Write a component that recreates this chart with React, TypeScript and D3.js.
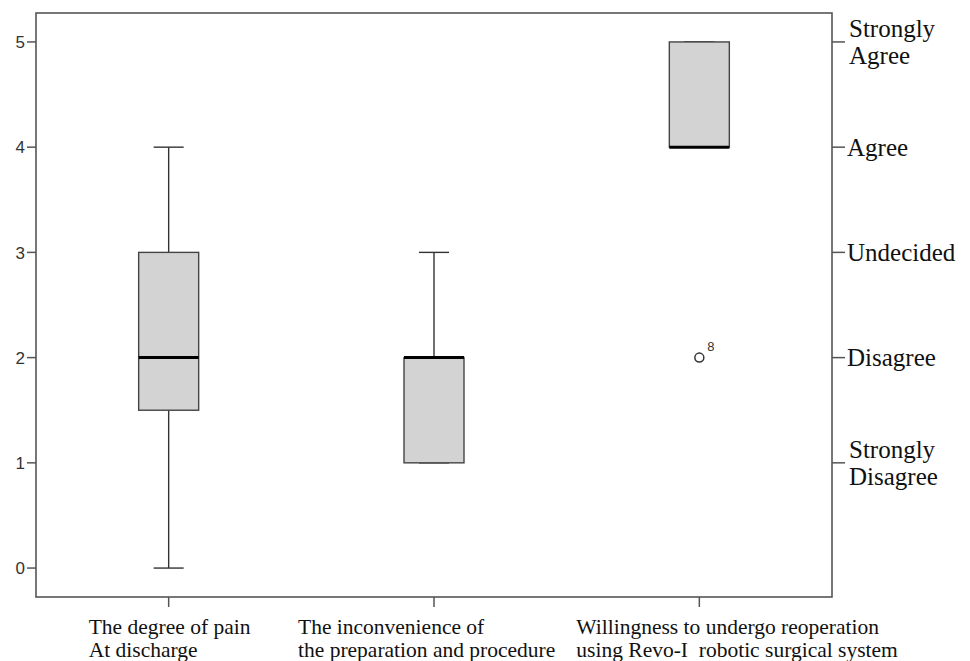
import React from 'react';
import * as d3 from 'd3';

// categories on the x axis (each label split in two lines)
const categories = ['pain', 'inconvenience', 'willingness'];
const categoryLines = [
  ['The degree of pain', 'At discharge'],
  ['The inconvenience of', 'the preparation and procedure'],
  ['Willingness to undergo reoperation', 'using Revo-I  robotic surgical system'],
];

// box plot statistics
const whiskerLow = [0, 1, 4];
const q1 = [1.5, 1, 4];
const median = [2, 2, 4];
const q3 = [3, 2, 5];
const whiskerHigh = [4, 3, 5];

// outliers: category index, value, case label
const outlierCat = [2];
const outlierVal = [2];
const outlierLabel = ['8'];

const leftTicks = [0, 1, 2, 3, 4, 5];
const rightTickValues = [1, 2, 3, 4, 5];
const rightTickLabels = [
  ['Strongly', 'Disagree'],
  ['Disagree'],
  ['Undecided'],
  ['Agree'],
  ['Strongly', 'Agree'],
];

const width = 970;
const height = 661;
const frame = { left: 36, right: 832, top: 13, bottom: 597 };

export default function App() {
  var y = d3.scaleLinear().domain([-0.275, 5.275]).range([frame.bottom, frame.top]);
  var x = d3.scalePoint().domain(categories).range([frame.left, frame.right]).padding(0.5);

  var boxW = 60;
  var capW = 30;
  var axisColor = '#555';
  var sans = '"Liberation Sans", Arial, sans-serif';
  var serif = '"Liberation Serif", "Times New Roman", serif';

  return (
    <div style={{ position: 'absolute', left: 0, top: 0 }}>
      <svg width={width} height={height} style={{ display: 'block', background: '#fff' }}>
        {/* plot frame */}
        <rect x={frame.left} y={frame.top} width={frame.right - frame.left} height={frame.bottom - frame.top}
          fill="none" stroke={axisColor} strokeWidth={1.6} />

        {/* left axis */}
        {leftTicks.map(t => (
          <g key={'l' + t} transform={'translate(' + frame.left + ',' + y(t) + ')'}>
            <line x1={-9} x2={0} stroke={axisColor} strokeWidth={1.5} />
            <text x={-11} dy="0.36em" textAnchor="end" fontFamily={sans} fontSize={17} fill="#333">{t}</text>
          </g>
        ))}

        {/* right axis */}
        {rightTickValues.map((t, i) => {
          var lines = rightTickLabels[i];
          var lh = 27;
          var y0 = -((lines.length - 1) * lh) / 2;
          return (
            <g key={'r' + t} transform={'translate(' + frame.right + ',' + y(t) + ')'}>
              <line x1={0} x2={13} stroke={axisColor} strokeWidth={1.5} />
              {lines.map((s, j) => (
                <text key={j} x={lines.length > 1 ? 17 : 15} y={y0 + j * lh} dy="0.35em"
                  fontFamily={serif} fontSize={25} fill="#111">{s}</text>
              ))}
            </g>
          );
        })}

        {/* bottom axis */}
        {categories.map((c, i) => (
          <g key={'b' + c} transform={'translate(' + x(c) + ',' + frame.bottom + ')'}>
            <line y1={0} y2={10} stroke={axisColor} strokeWidth={1.5} />
            {categoryLines[i].map((s, j) => (
              <text key={j} x={-80 - (i == 1 ? 56 : i == 2 ? 43 : 0)} y={37 + j * 23}
                fontFamily={serif} fontSize={21.5} fill="#111" style={{ whiteSpace: 'pre' }}>{s}</text>
            ))}
          </g>
        ))}

        {/* boxes */}
        {categories.map((c, i) => {
          var cx = x(c) as number;
          return (
            <g key={'box' + c}>
              <line x1={cx} x2={cx} y1={y(whiskerHigh[i])} y2={y(q3[i])} stroke="#333" strokeWidth={1.4} />
              <line x1={cx} x2={cx} y1={y(q1[i])} y2={y(whiskerLow[i])} stroke="#333" strokeWidth={1.4} />
              <line x1={cx - capW / 2} x2={cx + capW / 2} y1={y(whiskerHigh[i])} y2={y(whiskerHigh[i])} stroke="#333" strokeWidth={1.4} />
              <line x1={cx - capW / 2} x2={cx + capW / 2} y1={y(whiskerLow[i])} y2={y(whiskerLow[i])} stroke="#333" strokeWidth={1.4} />
              <rect x={cx - boxW / 2} y={y(q3[i])} width={boxW} height={y(q1[i]) - y(q3[i])}
                fill="#d3d3d3" stroke="#444" strokeWidth={1.4} />
              <line x1={cx - boxW / 2} x2={cx + boxW / 2} y1={y(median[i])} y2={y(median[i])} stroke="#000" strokeWidth={3} />
            </g>
          );
        })}

        {/* outliers */}
        {outlierCat.map((ci, k) => {
          var cx = x(categories[ci]) as number;
          return (
            <g key={'o' + k}>
              <circle cx={cx} cy={y(outlierVal[k])} r={4.5} fill="#fff" stroke="#333" strokeWidth={1.5} />
              <text x={cx + 8} y={y(outlierVal[k]) - 7} fontFamily={sans} fontSize={13} fill="#333">{outlierLabel[k]}</text>
            </g>
          );
        })}
      </svg>
    </div>
  );
}
